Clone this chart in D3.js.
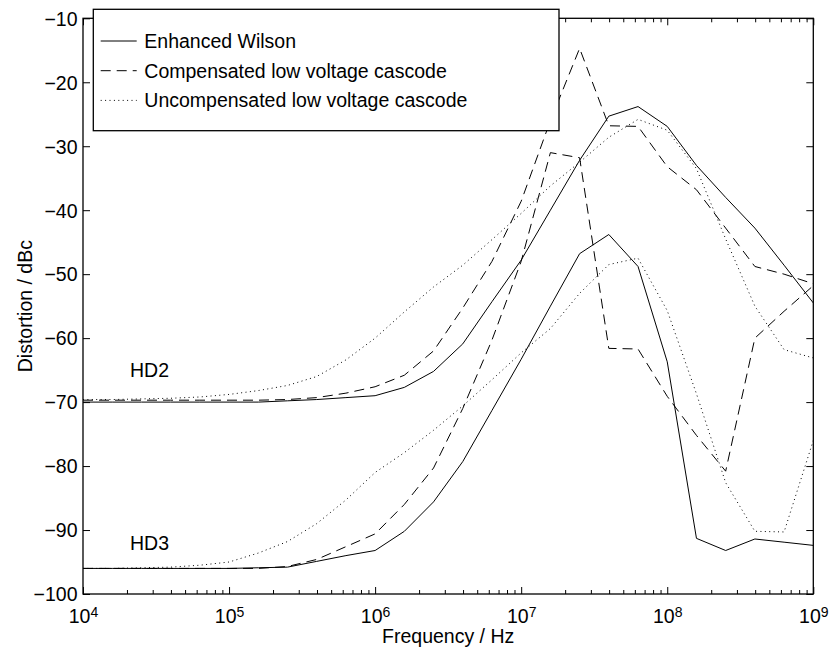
<!DOCTYPE html>
<html>
<head>
<meta charset="utf-8">
<script src="https://cdn.jsdelivr.net/npm/d3@7"></script>
<style>
  body { margin: 0; background: #fff; }
  svg text { font-family: "Liberation Sans", Arial, Helvetica, sans-serif; fill: #000; }
</style>
</head>
<body>
<div id="chart"></div>
<script>
// frequency points (Hz), 5 per decade
var freqs = [1e4, 1.585e4, 2.512e4, 3.981e4, 6.310e4,
             1e5, 1.585e5, 2.512e5, 3.981e5, 6.310e5,
             1e6, 1.585e6, 2.512e6, 3.981e6, 6.310e6,
             1e7, 1.585e7, 2.512e7, 3.981e7, 6.310e7,
             1e8, 1.585e8, 2.512e8, 3.981e8, 6.310e8, 1e9];

// Enhanced Wilson
var wilsonHD2 = [-70, -70, -70, -70, -70, -70, -70, -69.8, -69.6, -69.3,
                 -69.0, -67.7, -65.2, -60.9, -54.3, -47.8, -40.0, -32.2, -25.3, -23.8,
                 -26.9, -33.0, -38.0, -42.8, -48.6, -54.5];
var wilsonHD3 = [-96, -96, -96, -96, -96, -96, -95.9, -95.8, -94.9, -94.0,
                 -93.2, -90.2, -85.6, -79.3, -71.3, -63.3, -55.0, -46.8, -43.8, -48.8,
                 -63.7, -91.3, -93.2, -91.4, -91.9, -92.4];

// Compensated low voltage cascode
var compHD2 = [-69.7, -69.7, -69.7, -69.7, -69.7, -69.7, -69.7, -69.6, -69.3, -68.6,
               -67.6, -65.8, -62.0, -55.3, -48.0, -38.6, -26.0, -14.7, -26.8, -26.9,
               -33.2, -36.8, -42.8, -48.8, -50.0, -51.5];
var compHD3 = [-96, -96, -96, -96, -96, -96, -96, -95.7, -94.6, -92.6,
               -90.6, -86.0, -80.3, -71.0, -60.3, -48.0, -31.0, -31.8, -61.6, -61.7,
               -69.1, -75.2, -80.8, -60.0, -55.8, -51.8];

// Uncompensated low voltage cascode
var uncompHD2 = [-69.6, -69.6, -69.5, -69.4, -69.2, -68.8, -68.2, -67.4, -66.0, -63.4,
                 -60.0, -55.9, -52.0, -48.6, -44.6, -40.5, -36.2, -32.5, -28.6, -25.8,
                 -27.5, -33.5, -44.5, -55.0, -61.8, -63.1];
var uncompHD3 = [-96, -96, -95.9, -95.8, -95.5, -95.0, -93.6, -91.8, -89.0, -85.3,
                 -81.0, -77.9, -74.4, -70.6, -66.5, -62.3, -58.5, -53.0, -48.5, -47.5,
                 -55.7, -68.7, -82.6, -90.2, -90.3, -76.0];

var legendLabels = ["Enhanced Wilson", "Compensated low voltage cascode", "Uncompensated low voltage cascode"];
var yTicks = [-100, -90, -80, -70, -60, -50, -40, -30, -20, -10];
var xMajor = [1e4, 1e5, 1e6, 1e7, 1e8, 1e9];

var width = 829, height = 650;
var plotLeft = 83, plotRight = 813.3, plotTop = 18.3, plotBottom = 594;
var fontSize = 19.5;

var svg = d3.select("#chart").append("svg")
    .attr("width", width)
    .attr("height", height);

var x = d3.scaleLog().domain([1e4, 1e9]).range([plotLeft, plotRight]);
var y = d3.scaleLinear().domain([-100, -10]).range([plotBottom, plotTop]);

var xMinor = [];
xMajor.slice(0, -1).forEach(function (d) {
    for (var m = 2; m <= 9; m++) xMinor.push(d * m);
});

var styles = [
    { dash: null },
    { dash: "10,6" },
    { dash: "1,3.4" }
];

var series = [
    { values: wilsonHD2, style: 0 },
    { values: wilsonHD3, style: 0 },
    { values: compHD2, style: 1 },
    { values: compHD3, style: 1 },
    { values: uncompHD2, style: 2 },
    { values: uncompHD3, style: 2 }
];

svg.append("clipPath").attr("id", "plotclip")
    .append("rect")
    .attr("x", plotLeft).attr("y", plotTop)
    .attr("width", plotRight - plotLeft).attr("height", plotBottom - plotTop);

var line = d3.line()
    .x(function (d) { return x(d[0]); })
    .y(function (d) { return y(d[1]); });

svg.append("g").attr("clip-path", "url(#plotclip)")
    .selectAll("path")
    .data(series)
    .enter()
    .append("path")
    .attr("d", function (s) { return line(freqs.map(function (f, i) { return [f, s.values[i]]; })); })
    .attr("fill", "none")
    .attr("stroke", "#000")
    .attr("stroke-width", 1)
    .attr("stroke-dasharray", function (s) { return styles[s.style].dash; });

// axes: ticks point inward on all four sides
function styleAxis(g) {
    g.select(".domain").remove();
    g.selectAll(".tick line").attr("stroke", "#000").attr("stroke-width", 1);
    g.selectAll(".tick text").style("font-size", fontSize + "px");
}

svg.append("g")
    .attr("transform", "translate(0," + plotBottom + ")")
    .call(d3.axisBottom(x).tickValues(xMinor).tickSize(-4).tickFormat(""))
    .call(styleAxis);
svg.append("g")
    .attr("transform", "translate(0," + plotTop + ")")
    .call(d3.axisTop(x).tickValues(xMinor).tickSize(-4).tickFormat(""))
    .call(styleAxis);
svg.append("g")
    .attr("transform", "translate(0," + plotTop + ")")
    .call(d3.axisTop(x).tickValues(xMajor).tickSize(-7).tickFormat(""))
    .call(styleAxis);

var xAxis = svg.append("g")
    .attr("transform", "translate(0," + plotBottom + ")")
    .call(d3.axisBottom(x).tickValues(xMajor).tickSize(-7).tickPadding(15.5).tickFormat(""))
    .call(styleAxis);

xAxis.selectAll(".tick text").each(function (d) {
    var t = d3.select(this);
    t.text(null);
    t.append("tspan").text("10");
    t.append("tspan")
        .attr("dy", "-0.42em")
        .style("font-size", "14px")
        .text(Math.round(Math.log10(d)));
});

svg.append("g")
    .attr("transform", "translate(" + plotLeft + ",0)")
    .call(d3.axisLeft(y).tickValues(yTicks).tickSize(-7).tickPadding(5.5))
    .call(styleAxis)
    .selectAll(".tick text").attr("dy", "0.35em");
svg.append("g")
    .attr("transform", "translate(" + plotRight + ",0)")
    .call(d3.axisRight(y).tickValues(yTicks).tickSize(-7).tickFormat(""))
    .call(styleAxis);

// frame
svg.append("rect")
    .attr("x", plotLeft).attr("y", plotTop)
    .attr("width", plotRight - plotLeft).attr("height", plotBottom - plotTop)
    .attr("fill", "none")
    .attr("stroke", "#000")
    .attr("stroke-width", 1.3);

// axis titles
svg.append("text")
    .attr("x", (plotLeft + plotRight) / 2)
    .attr("y", 643)
    .attr("text-anchor", "middle")
    .style("font-size", fontSize + "px")
    .text("Frequency / Hz");

svg.append("text")
    .attr("transform", "translate(31.5," + (plotTop + plotBottom) / 2 + ") rotate(-90)")
    .attr("text-anchor", "middle")
    .style("font-size", fontSize + "px")
    .text("Distortion / dBc");

// curve group labels
svg.append("text").attr("x", 130).attr("y", 377)
    .style("font-size", fontSize + "px").text("HD2");
svg.append("text").attr("x", 130).attr("y", 550)
    .style("font-size", fontSize + "px").text("HD3");

// legend
var legend = svg.append("g").attr("transform", "translate(93.3,9.3)");
legend.append("rect")
    .attr("width", 465.7).attr("height", 121.4)
    .attr("fill", "#fff")
    .attr("stroke", "#000")
    .attr("stroke-width", 1.3);

var rows = legend.selectAll("g.row")
    .data(legendLabels)
    .enter()
    .append("g")
    .attr("class", "row")
    .attr("transform", function (d, i) { return "translate(0," + (31.7 + i * 29.7) + ")"; });

rows.append("line")
    .attr("x1", 7.4).attr("x2", 43.4)
    .attr("y1", 0).attr("y2", 0)
    .attr("stroke", "#000")
    .attr("stroke-width", 1)
    .attr("stroke-dasharray", function (d, i) { return styles[i].dash; });

rows.append("text")
    .attr("x", 51)
    .attr("y", 6.8)
    .style("font-size", fontSize + "px")
    .text(function (d) { return d; });
</script>
</body>
</html>
